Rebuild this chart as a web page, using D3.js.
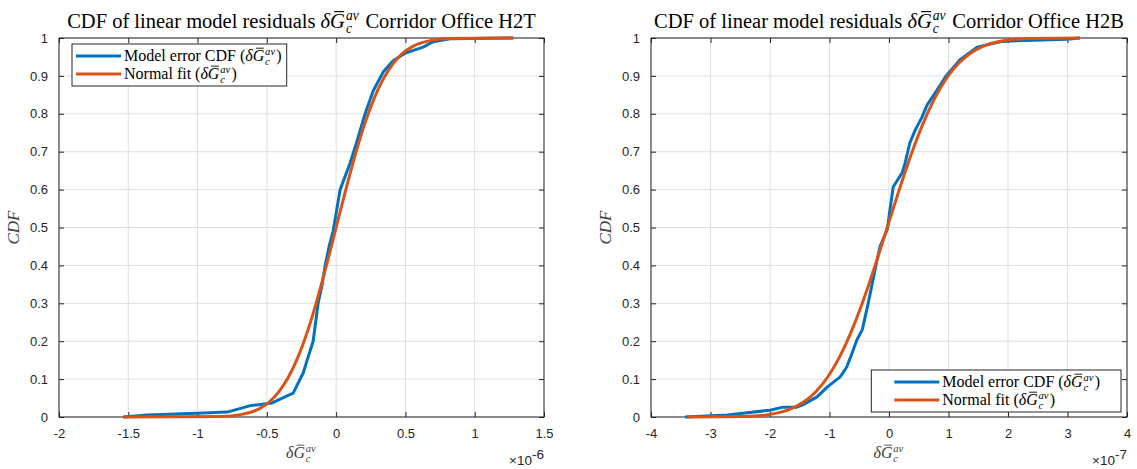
<!DOCTYPE html>
<html><head><meta charset="utf-8">
<script src="https://cdn.jsdelivr.net/npm/d3@7"></script>
<style>
body{margin:0;background:#fff;}
svg text{white-space:pre;}
</style>
</head><body>
<svg id="chart" width="1137" height="469"></svg>
<script>
// ---- data (x values in units of the axis exponent) ----
const yTicks = [0,0.1,0.2,0.3,0.4,0.5,0.6,0.7,0.8,0.9,1];
const yTickLabels = ["0","0.1","0.2","0.3","0.4","0.5","0.6","0.7","0.8","0.9","1"];

// Panel 1: H2T (x10^-6)
const h2tTitleSuffix = " Corridor Office H2T";
const h2tXTicks = [-2,-1.5,-1,-0.5,0,0.5,1,1.5];
const h2tXTickLabels = ["-2","-1.5","-1","-0.5","0","0.5","1","1.5"];
const h2tExponent = "-6";
const h2tErrX   = [-1.537,-1.364,-1.003,-0.786,-0.62,-0.462,-0.404,-0.31,-0.238,-0.209,-0.166,-0.13,-0.101,-0.079,-0.051,-0.022,0.029,0.101,0.152,0.209,0.267,0.339,0.411,0.498,0.628,0.70,0.823,1.277];
const h2tErrCdf = [0,0.005,0.01,0.013,0.03,0.037,0.047,0.063,0.116,0.15,0.2,0.3,0.35,0.4,0.45,0.49,0.6,0.67,0.73,0.80,0.86,0.91,0.94,0.96,0.976,0.99,0.998,1];
const h2tFitX   = [-1.53,-0.825,-0.688,-0.55,-0.481,-0.413,-0.344,-0.275,-0.206,-0.138,-0.069,0,0.069,0.138,0.206,0.275,0.344,0.413,0.481,0.55,0.688,0.825,1.28];
const h2tFitCdf = [0,0.0013,0.0062,0.0228,0.0401,0.0668,0.1056,0.1587,0.2266,0.3085,0.4013,0.5,0.5987,0.6915,0.7734,0.8413,0.8944,0.9332,0.9599,0.9772,0.9938,0.9987,1];

// Panel 2: H2B (x10^-7)
const h2bTitleSuffix = " Corridor Office H2B";
const h2bXTicks = [-4,-3,-2,-1,0,1,2,3,4];
const h2bXTickLabels = ["-4","-3","-2","-1","0","1","2","3","4"];
const h2bExponent = "-7";
const h2bErrX   = [-3.43,-2.72,-2.0,-1.78,-1.55,-1.45,-1.21,-1.04,-0.82,-0.71,-0.62,-0.54,-0.45,-0.35,-0.22,-0.15,-0.03,0.07,0.22,0.27,0.35,0.44,0.55,0.64,0.81,0.97,1.19,1.48,1.87,2.03,2.59,2.99,3.21];
const h2bErrCdf = [0,0.005,0.018,0.026,0.026,0.032,0.053,0.079,0.106,0.132,0.169,0.203,0.23,0.3,0.4,0.45,0.494,0.607,0.644,0.67,0.723,0.757,0.79,0.823,0.863,0.902,0.942,0.976,0.99,0.992,0.995,0.997,1];
const h2bFitX   = [-3.39,-2.43,-2.03,-1.63,-1.43,-1.23,-1.03,-0.83,-0.63,-0.43,-0.23,-0.03,0.17,0.37,0.57,0.77,0.97,1.17,1.37,1.57,1.97,2.37,3.21];
const h2bFitCdf = [0,0.0013,0.0062,0.0228,0.0401,0.0668,0.1056,0.1587,0.2266,0.3085,0.4013,0.5,0.5987,0.6915,0.7734,0.8413,0.8944,0.9332,0.9599,0.9772,0.9938,0.9987,1];

const legendLabels = ["Model error CDF (", "Normal fit ("];
const colors = {err:"#0072BD", fit:"#D95319"};

// ---- drawing ----
const svg = d3.select("#chart");
const AX = "#262626";
const SERIF = "'Liberation Serif','DejaVu Serif',serif";
const SANS = "'Liberation Sans',Arial,sans-serif";

// rich text: parts of {t, italic} | {math:true}
function rich(parent, parts, size, color) {
  const g = parent.append("g");
  let x = 0;
  parts.forEach(p => {
    if (p.math) {
      const d = g.append("text").attr("x", x).attr("font-family", SERIF).attr("font-size", size)
        .attr("font-style","italic").attr("fill", color).text("δ");
      x += d.node().getComputedTextLength();
      const G = g.append("text").attr("x", x).attr("font-family", SERIF).attr("font-size", size)
        .attr("font-style","italic").attr("fill", color).text("G");
      const gw = G.node().getComputedTextLength();
      g.append("line").attr("x1", x + gw*0.28).attr("x2", x + gw*0.95)
        .attr("y1", -size*0.80).attr("y2", -size*0.80).attr("stroke", color).attr("stroke-width", Math.max(0.8,size*0.055));
      x += gw + size*0.05;
      const s = size*0.66;
      const sup = g.append("text").attr("x", x).attr("y", -size*0.40).attr("font-family", SERIF).attr("font-size", s)
        .attr("font-style","italic").attr("fill", color).text("av");
      const sub = g.append("text").attr("x", x).attr("y", size*0.26).attr("font-family", SERIF).attr("font-size", s)
        .attr("font-style","italic").attr("fill", color).text("c");
      x += Math.max(sup.node().getComputedTextLength(), sub.node().getComputedTextLength()) + size*0.08;
    } else {
      const t = g.append("text").attr("x", x).attr("font-family", SERIF).attr("font-size", size)
        .attr("font-style", p.italic ? "italic" : "normal").attr("fill", color).text(p.t);
      x += t.node().getComputedTextLength();
    }
  });
  return {g, width:x};
}

function panel(cfg) {
  const {x0, x1, y0, y1} = cfg;
  const xs = d3.scaleLinear().domain(cfg.xDomain).range([x0, x1]);
  const ys = d3.scaleLinear().domain([0,1]).range([y1, y0]);
  const g = svg.append("g");

  // grid
  g.append("g").selectAll("line").data(cfg.xTicks).join("line")
    .attr("x1", d=>xs(d)).attr("x2", d=>xs(d)).attr("y1", y0).attr("y2", y1)
    .attr("stroke", "#dfdfdf").attr("stroke-width", 1);
  g.append("g").selectAll("line").data(yTicks).join("line")
    .attr("x1", x0).attr("x2", x1).attr("y1", d=>ys(d)).attr("y2", d=>ys(d))
    .attr("stroke", "#dfdfdf").attr("stroke-width", 1);

  // axes with inward ticks
  const tl = 5;
  const bottom = g.append("g").attr("transform", `translate(0,${y1})`)
    .call(d3.axisBottom(xs).tickValues(cfg.xTicks).tickFormat((d,i)=>cfg.xTickLabels[i]).tickSizeInner(-tl).tickSizeOuter(0).tickPadding(12));
  const top = g.append("g").attr("transform", `translate(0,${y0})`)
    .call(d3.axisTop(xs).tickValues(cfg.xTicks).tickFormat("").tickSizeInner(-tl).tickSizeOuter(0));
  const left = g.append("g").attr("transform", `translate(${x0},0)`)
    .call(d3.axisLeft(ys).tickValues(yTicks).tickFormat((d,i)=>yTickLabels[i]).tickSizeInner(-tl).tickSizeOuter(0).tickPadding(11));
  const right = g.append("g").attr("transform", `translate(${x1},0)`)
    .call(d3.axisRight(ys).tickValues(yTicks).tickFormat("").tickSizeInner(-tl).tickSizeOuter(0));
  [bottom, top, left, right].forEach(a => {
    a.select(".domain").remove();
    a.selectAll("line").attr("stroke", AX);
    a.selectAll("text").attr("font-family", SANS).attr("font-size", 13).attr("fill", AX);
  });
  g.append("rect").attr("x", x0).attr("y", y0).attr("width", x1-x0).attr("height", y1-y0)
    .attr("fill","none").attr("stroke", AX).attr("stroke-width", 1);

  // lines
  const line = d3.line().x(d=>xs(d[0])).y(d=>ys(d[1]));
  const errPts = cfg.errX.map((v,i)=>[v, cfg.errCdf[i]]);
  const fitPts = cfg.fitX.map((v,i)=>[v, cfg.fitCdf[i]]);
  g.append("path").attr("d", line(errPts)).attr("fill","none").attr("stroke", colors.err)
    .attr("stroke-width", 3).attr("stroke-linejoin","round");
  g.append("path").attr("d", line.curve(d3.curveMonotoneX)(fitPts)).attr("fill","none").attr("stroke", colors.fit)
    .attr("stroke-width", 3).attr("stroke-linejoin","round");

  // title
  const title = rich(svg, [{t:"CDF of linear model residuals "},{math:true},{t:cfg.titleSuffix}], 20.5, "#000");
  title.g.attr("transform", `translate(${(x0+x1)/2 - title.width/2},28)`);

  // x label
  const xl = rich(svg, [{math:true}], 16, "#404040");
  xl.g.attr("transform", `translate(${(x0+x1)/2 - xl.width/2},458)`);

  // y label
  svg.append("text").attr("transform", `translate(${x0-40},${(y0+y1)/2}) rotate(-90)`)
    .attr("text-anchor","middle").attr("font-family", SERIF).attr("font-style","italic")
    .attr("font-size", 17).attr("fill", "#404040").text("CDF");

  // exponent
  const ex = svg.append("text").attr("x", x1).attr("y", 465).attr("text-anchor","end")
    .attr("font-family", SANS).attr("font-size", 13.5).attr("fill", AX);
  ex.append("tspan").text("×10");
  ex.append("tspan").attr("dy", -6).text(cfg.exponent);

  // legend
  const lg = svg.append("g");
  const box = lg.append("rect").attr("fill","#fff").attr("stroke", AX).attr("stroke-width", 1);
  const r1 = rich(lg, [{t:legendLabels[0]},{math:true},{t:")"}], 16, "#000");
  const r2 = rich(lg, [{t:legendLabels[1]},{math:true},{t:")"}], 16, "#000");
  const textW = Math.max(r1.width, r2.width);
  const lineW = 45, gap = 3;
  const padL = cfg.legendPos === "nw" ? 4 : 23;
  const padR = cfg.legendPos === "nw" ? 5 : 21;
  const bw = padL + lineW + gap + textW + padR, bh = 42;
  let bx, by;
  if (cfg.legendPos === "nw") { bx = x0 + 13; by = y0 + 6; }
  else { bx = x1 - 6 - bw; by = y1 - 5 - bh; }
  box.attr("x", bx).attr("y", by).attr("width", bw).attr("height", bh);
  [[r1, colors.err, 12],[r2, colors.fit, 30]].forEach(([r, c, dy]) => {
    lg.append("line").attr("x1", bx+padL).attr("x2", bx+padL+lineW).attr("y1", by+dy).attr("y2", by+dy)
      .attr("stroke", c).attr("stroke-width", 3);
    r.g.attr("transform", `translate(${bx+padL+lineW+gap},${by+dy+5})`);
  });
}

panel({x0:59, x1:544, y0:38, y1:417, xDomain:[-2,1.5], xTicks:h2tXTicks, xTickLabels:h2tXTickLabels,
  exponent:h2tExponent, errX:h2tErrX, errCdf:h2tErrCdf, fitX:h2tFitX, fitCdf:h2tFitCdf,
  titleSuffix:h2tTitleSuffix, legendPos:"nw"});
panel({x0:651, x1:1127, y0:38, y1:417, xDomain:[-4,4], xTicks:h2bXTicks, xTickLabels:h2bXTickLabels,
  exponent:h2bExponent, errX:h2bErrX, errCdf:h2bErrCdf, fitX:h2bFitX, fitCdf:h2bFitCdf,
  titleSuffix:h2bTitleSuffix, legendPos:"se"});
</script>
</body></html>
